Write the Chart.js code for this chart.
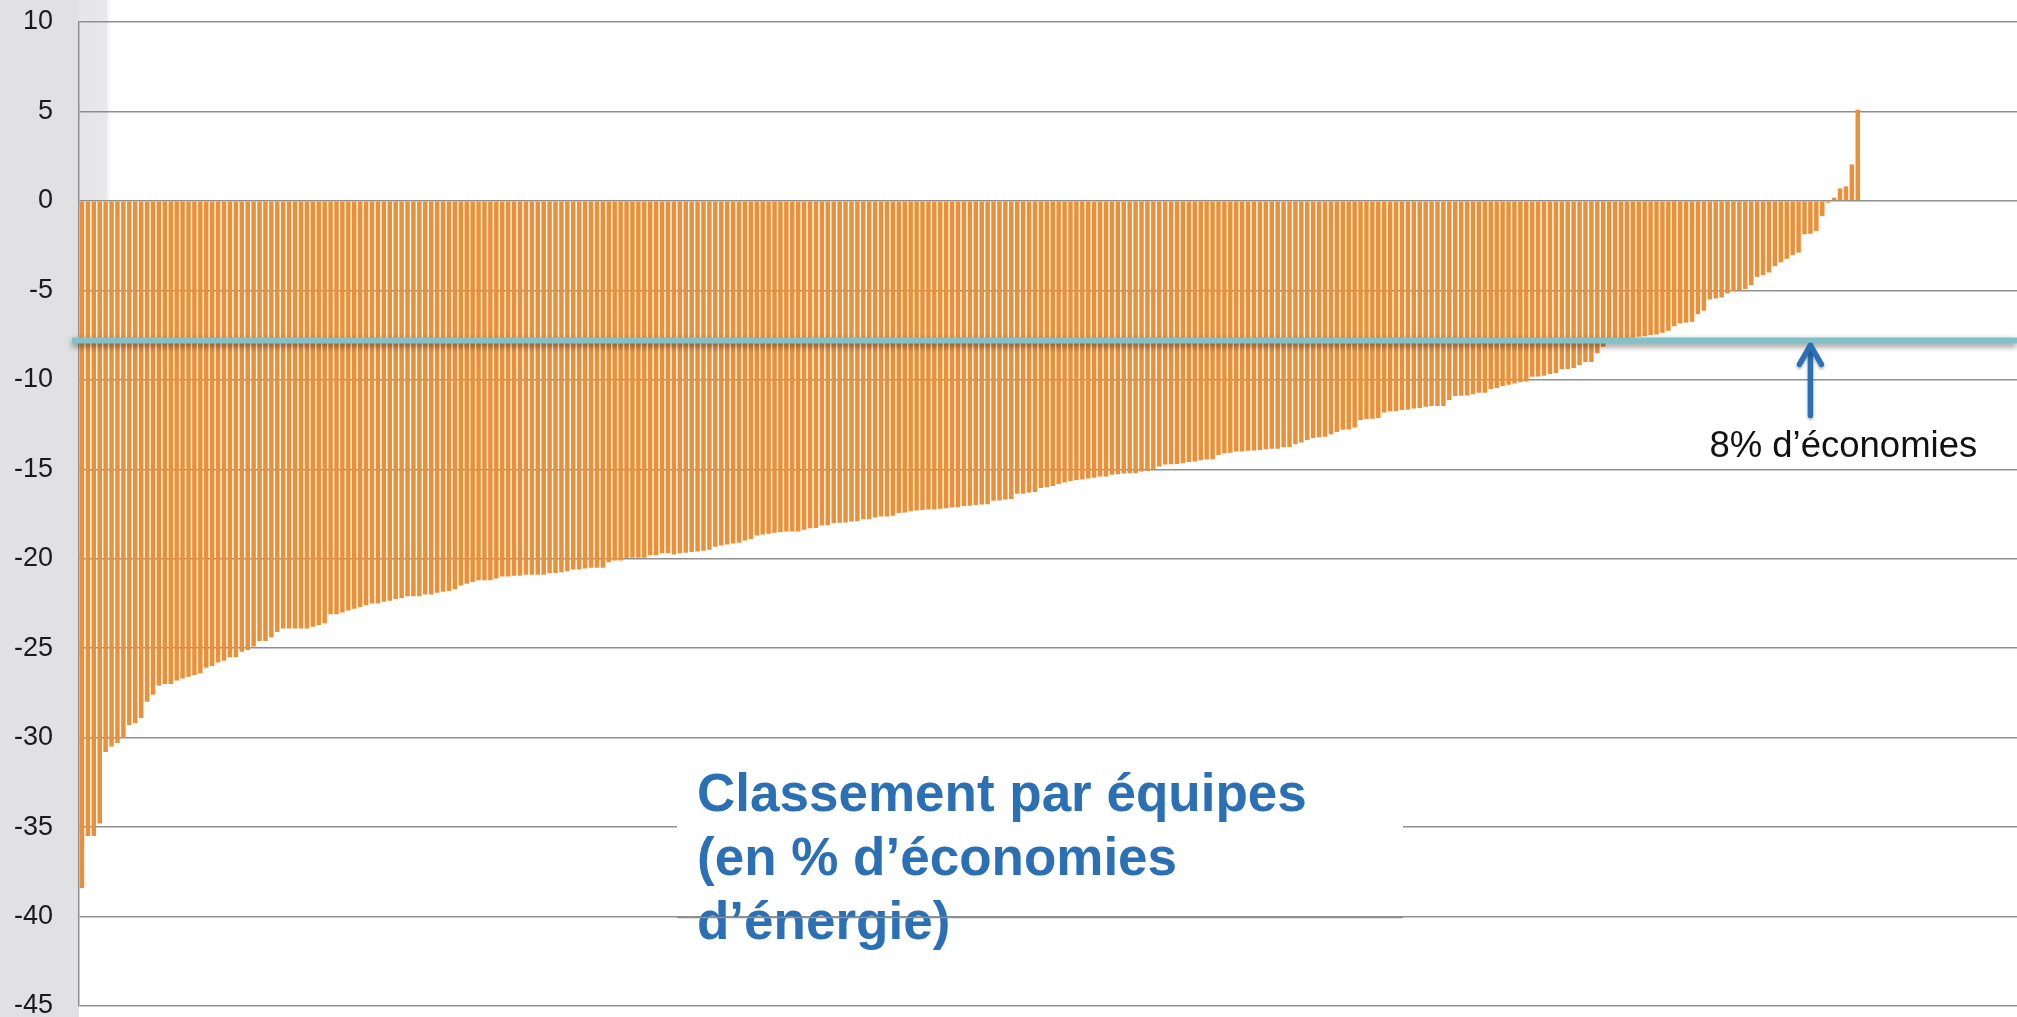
<!DOCTYPE html>
<html lang="fr">
<head>
<meta charset="utf-8">
<title>Classement par équipes</title>
<script src="https://cdn.jsdelivr.net/npm/chart.js@4.4.1/dist/chart.umd.min.js"></script>
<style>
  html, body { margin: 0; padding: 0; background: #fff; overflow: hidden; }
  #wrap { width: 2017px; height: 1040px; }
</style>
</head>
<body>
<div id="wrap"><canvas id="cRank" width="2017" height="1040"></canvas></div>
<script>
// --- DATA ---
// % d'économies d'énergie par équipe, triées (rang 1 -> 301)
const savings = [
  -38.4, -35.5, -35.5, -34.8, -30.8, -30.5, -30.3, -30.0, -29.3, -29.2,
  -28.9, -28.0, -27.6, -27.1, -27.0, -27.0, -26.8, -26.7, -26.6, -26.5,
  -26.4, -26.1, -26.0, -25.8, -25.7, -25.5, -25.5, -25.2, -25.1, -24.9,
  -24.6, -24.6, -24.4, -24.1, -23.9, -23.9, -23.9, -23.9, -23.9, -23.8,
  -23.7, -23.6, -23.1, -23.1, -23.0, -22.9, -22.8, -22.7, -22.6, -22.5,
  -22.5, -22.4, -22.35, -22.25, -22.2, -22.1, -22.1, -22.1, -22.0, -22.0,
  -21.9, -21.85, -21.8, -21.7, -21.5, -21.4, -21.3, -21.2, -21.2, -21.2,
  -21.1, -21.0, -21.0, -20.95, -20.95, -20.9, -20.9, -20.9, -20.9, -20.8,
  -20.8, -20.75, -20.7, -20.6, -20.6, -20.55, -20.5, -20.5, -20.5, -20.2,
  -20.1, -20.1, -19.96, -19.95, -19.95, -19.95, -19.8, -19.8, -19.7, -19.7,
  -19.76, -19.7, -19.67, -19.63, -19.6, -19.55, -19.5, -19.33, -19.26, -19.2,
  -19.15, -19.1, -18.98, -18.9, -18.7, -18.64, -18.6, -18.55, -18.5, -18.48,
  -18.48, -18.48, -18.38, -18.29, -18.28, -18.14, -18.13, -18.0, -17.99, -17.98,
  -17.92, -17.9, -17.8, -17.8, -17.7, -17.64, -17.64, -17.6, -17.45, -17.42,
  -17.34, -17.3, -17.27, -17.25, -17.25, -17.2, -17.18, -17.14, -17.12, -17.05,
  -17.04, -17.0, -16.97, -16.95, -16.76, -16.75, -16.69, -16.66, -16.37, -16.37,
  -16.3, -16.27, -16.04, -16.0, -15.94, -15.83, -15.74, -15.65, -15.6, -15.57,
  -15.52, -15.48, -15.41, -15.4, -15.31, -15.28, -15.24, -15.22, -15.22, -15.13,
  -15.1, -15.0, -14.85, -14.74, -14.72, -14.7, -14.66, -14.6, -14.57, -14.5,
  -14.46, -14.44, -14.2, -14.1, -14.08, -14.01, -14.0, -13.97, -13.95, -13.92,
  -13.88, -13.85, -13.85, -13.77, -13.75, -13.6, -13.51, -13.36, -13.25, -13.21,
  -13.18, -13.04, -12.91, -12.79, -12.77, -12.67, -12.24, -12.19, -12.18, -12.13,
  -11.83, -11.76, -11.75, -11.69, -11.67, -11.61, -11.58, -11.5, -11.47, -11.46,
  -11.46, -11.13, -10.9, -10.89, -10.87, -10.81, -10.72, -10.72, -10.51, -10.46,
  -10.35, -10.27, -10.2, -10.12, -10.09, -9.83, -9.82, -9.77, -9.68, -9.62,
  -9.41, -9.4, -9.34, -9.19, -9.0, -9.0, -8.52, -8.15, -7.9, -7.85,
  -7.8, -7.75, -7.65, -7.59, -7.56, -7.5, -7.47, -7.37, -7.26, -7.0,
  -6.85, -6.8, -6.76, -6.33, -6.14, -5.51, -5.45, -5.4, -5.17, -5.04,
  -5.0, -4.92, -4.71, -4.25, -4.15, -4.0, -3.65, -3.43, -3.24, -3.02,
  -2.89, -1.86, -1.84, -1.68, -0.84, -0.1, 0.18, 0.7, 0.81, 2.04,
  5.1
];
const yTicks = [10, 5, 0, -5, -10, -15, -20, -25, -30, -35, -40, -45];
const target = -7.8;            // ligne "8% d'économies"
const slots = 327.4;            // nb de places visibles sur l'axe (graphique coupé à droite)
const arrowRank = 293;
const titleLines = ["Classement par équipes", "(en % d’économies", "d’énergie)"];
const targetLabel = "8% d’économies";

const FONT = "'Liberation Sans', Arial, Helvetica, sans-serif";
const C = { bar: "#ea9039", grid: "#8f8f8f", teal: "#81c1c7", blue: "#2b6fb4", side: "#e1e1e3" };

// --- PLUGINS ---
const backdrop = {
  id: "backdrop",
  beforeDraw(chart) {
    const { ctx, chartArea: a } = chart;
    const y0 = chart.scales.y.getPixelForValue(0);
    ctx.save();
    ctx.fillStyle = C.side;
    ctx.fillRect(0, 0, a.left, chart.height);
    const g = ctx.createLinearGradient(a.left, 0, a.left + 34, 0);
    g.addColorStop(0, "#e6e6e8");
    g.addColorStop(0.8, "#e8e8ea");
    g.addColorStop(1, "rgba(255,255,255,0)");
    ctx.fillStyle = g;
    ctx.fillRect(a.left, 0, 34, y0);
    ctx.restore();
  }
};

const titleBox = {
  id: "titleBox",
  beforeDatasetsDraw(chart) {
    const { ctx } = chart;
    const y = chart.scales.y;
    ctx.save();
    ctx.fillStyle = "#fff";
    ctx.fillRect(677, 752, 726, 140);
    ctx.fillStyle = C.blue;
    ctx.font = `bold 53px ${FONT}`;
    ctx.textBaseline = "alphabetic";
    titleLines.forEach((t, i) => ctx.fillText(t, 697, 811 + i * 64));
    // la ligne -40 passe par-dessus le texte
    const y40 = Math.round(y.getPixelForValue(-40)) + 0.5;
    ctx.strokeStyle = C.grid;
    ctx.lineWidth = 1.5;
    ctx.beginPath(); ctx.moveTo(677, y40); ctx.lineTo(1403, y40); ctx.stroke();
    ctx.restore();
  }
};

const targetLine = {
  id: "targetLine",
  afterDatasetsDraw(chart) {
    const { ctx, chartArea: a } = chart;
    const yp = chart.scales.y.getPixelForValue(target);
    const xp = chart.scales.x.getPixelForValue(arrowRank);
    ctx.save();
    // ligne turquoise avec ombre
    ctx.shadowColor = "rgba(0,0,0,0.45)";
    ctx.shadowBlur = 6;
    ctx.shadowOffsetY = 3;
    ctx.strokeStyle = C.teal;
    ctx.lineWidth = 6;
    ctx.beginPath(); ctx.moveTo(a.left - 7, yp); ctx.lineTo(chart.width, yp); ctx.stroke();
    // flèche
    ctx.shadowColor = "rgba(0,0,0,0.3)";
    ctx.shadowBlur = 3;
    ctx.shadowOffsetY = 2;
    ctx.strokeStyle = C.blue;
    ctx.lineWidth = 5.5;
    ctx.lineCap = "round";
    ctx.lineJoin = "round";
    const tip = yp + 3;
    ctx.beginPath(); ctx.moveTo(xp, tip + 2); ctx.lineTo(xp, tip + 72); ctx.stroke();
    ctx.beginPath(); ctx.moveTo(xp - 11, tip + 21); ctx.lineTo(xp, tip + 2); ctx.lineTo(xp + 11, tip + 21); ctx.stroke();
    ctx.restore();
    ctx.save();
    ctx.fillStyle = "#111";
    ctx.font = `36.5px ${FONT}`;
    ctx.textBaseline = "alphabetic";
    ctx.fillText(targetLabel, xp - 101, tip + 114);
    ctx.restore();
  }
};

// --- CHART ---
new Chart(document.getElementById("cRank").getContext("2d"), {
  type: "bar",
  data: {
    datasets: [{
      label: "Économies (%)",
      data: savings.map((v, i) => ({ x: i + 1, y: v })),
      backgroundColor: C.bar,
      borderWidth: 0,
      barPercentage: 0.76,
      categoryPercentage: 1
    }]
  },
  options: {
    responsive: false,
    animation: false,
    layout: { padding: { top: 22, bottom: 34, left: 0, right: 0 } },
    plugins: { legend: { display: false }, tooltip: { enabled: false } },
    scales: {
      x: { type: "linear", min: 0.5, max: 0.5 + slots, offset: false, bounds: "data", display: false },
      y: {
        min: -45, max: 10,
        afterFit: s => { s.width = 79; },
        afterBuildTicks: s => { s.ticks = yTicks.map(v => ({ value: v })); },
        grid: { color: C.grid, lineWidth: 1.5, drawTicks: true, tickLength: 26, tickColor: "rgba(0,0,0,0)" },
        border: { display: true, color: C.grid, width: 1.5 },
        ticks: { color: "#1a1a1a", padding: 0, font: { family: FONT, size: 27 } }
      }
    }
  },
  plugins: [backdrop, titleBox, targetLine]
});
</script>
</body>
</html>
